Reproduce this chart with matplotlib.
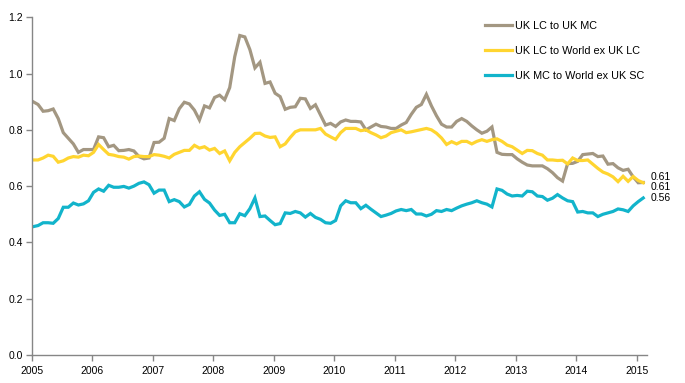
import numpy as np
import matplotlib.pyplot as plt
from matplotlib.ticker import FormatStrFormatter

plt.rcParams['font.family'] = ['Liberation Sans', 'DejaVu Sans']

# Monthly rolling correlations, Jan 2005 - Feb 2015
uk_lc_uk_mc = [
    0.90, 0.89, 0.866, 0.868, 0.874, 0.84, 0.79, 0.77, 0.75, 0.72,
    0.73, 0.73, 0.73, 0.775, 0.772, 0.74, 0.745, 0.726, 0.727, 0.73,
    0.725, 0.705, 0.697, 0.70, 0.755, 0.756, 0.77, 0.84, 0.833, 0.875,
    0.898, 0.892, 0.87, 0.835, 0.885, 0.878, 0.915, 0.923, 0.907, 0.95,
    1.06, 1.135, 1.13, 1.085, 1.02, 1.04, 0.965, 0.97, 0.93, 0.918,
    0.873, 0.88, 0.882, 0.912, 0.91, 0.876, 0.889, 0.853, 0.817, 0.823,
    0.812, 0.828, 0.835, 0.83, 0.83, 0.828, 0.80, 0.81, 0.82, 0.812,
    0.81, 0.805, 0.805, 0.817, 0.826, 0.855, 0.88, 0.89, 0.926, 0.885,
    0.85, 0.82, 0.81, 0.81, 0.83, 0.84, 0.83, 0.814, 0.80, 0.788,
    0.795, 0.81, 0.72, 0.713, 0.712, 0.712, 0.697, 0.685, 0.675, 0.672,
    0.672, 0.672, 0.662, 0.648, 0.63, 0.618, 0.68, 0.681, 0.688, 0.712,
    0.714, 0.716, 0.705, 0.707, 0.678, 0.68, 0.665, 0.656, 0.66, 0.633,
    0.612, 0.613,
]
uk_lc_world_lc = [
    0.693, 0.693, 0.70, 0.71, 0.706, 0.685, 0.69, 0.70, 0.705, 0.703,
    0.71, 0.708, 0.72, 0.748, 0.73, 0.713, 0.71, 0.705, 0.703, 0.696,
    0.705, 0.707, 0.705, 0.705, 0.712, 0.71, 0.706, 0.70, 0.713, 0.72,
    0.727, 0.727, 0.745, 0.735, 0.74, 0.728, 0.734, 0.716, 0.725, 0.69,
    0.72, 0.74, 0.755, 0.77, 0.787, 0.788, 0.778, 0.773, 0.775, 0.74,
    0.75, 0.773, 0.793, 0.80, 0.80, 0.80, 0.80, 0.805, 0.785, 0.775,
    0.766, 0.79, 0.805, 0.805, 0.805, 0.797, 0.80, 0.79, 0.782, 0.772,
    0.778, 0.79, 0.795, 0.80, 0.79, 0.793, 0.797, 0.801, 0.805, 0.80,
    0.788, 0.771, 0.748, 0.758, 0.75, 0.759, 0.759, 0.75, 0.759, 0.765,
    0.759, 0.765, 0.768, 0.759, 0.746, 0.74, 0.728, 0.716, 0.727, 0.726,
    0.716, 0.71, 0.693, 0.693, 0.691, 0.692, 0.679, 0.70, 0.691, 0.691,
    0.693, 0.678, 0.663, 0.65, 0.643, 0.633, 0.616, 0.635, 0.617, 0.634,
    0.62, 0.612,
]
uk_mc_world_sc = [
    0.456, 0.46, 0.47, 0.47, 0.468, 0.485, 0.525, 0.525, 0.54, 0.533,
    0.537, 0.548, 0.578, 0.59, 0.582, 0.603, 0.596, 0.596, 0.599, 0.593,
    0.60, 0.61, 0.615, 0.605, 0.575, 0.586, 0.586, 0.545, 0.552, 0.545,
    0.526, 0.535, 0.565, 0.58, 0.553, 0.54, 0.515, 0.496, 0.50, 0.47,
    0.47, 0.502, 0.495, 0.52, 0.558, 0.492, 0.494, 0.478, 0.463, 0.467,
    0.505, 0.503, 0.51, 0.505, 0.49, 0.503, 0.489, 0.482, 0.47, 0.468,
    0.478, 0.53, 0.548, 0.541, 0.541, 0.52, 0.532, 0.518, 0.505, 0.492,
    0.497, 0.503, 0.512, 0.517, 0.513, 0.517, 0.501, 0.501, 0.494, 0.50,
    0.513, 0.51, 0.517, 0.513, 0.522, 0.53, 0.536, 0.541, 0.548, 0.541,
    0.536, 0.526, 0.59, 0.585, 0.572, 0.565, 0.567, 0.565, 0.582, 0.58,
    0.565, 0.563, 0.55, 0.557, 0.57, 0.558, 0.548, 0.545, 0.508, 0.51,
    0.505, 0.505, 0.492, 0.50, 0.505, 0.51, 0.519, 0.516, 0.51, 0.53,
    0.545, 0.558,
]
labels = ['UK LC to UK MC', 'UK LC to World ex UK LC', 'UK MC to World ex UK SC']
colors = ['#A39782', '#FFD530', '#12B4CB']
end_labels = ['0.61', '0.61', '0.56']
label_offsets = [4, -3, 0]
years = list(range(2005, 2016))

x = 2005 + (np.arange(len(uk_lc_uk_mc)) + 0.3) / 12

fig = plt.figure(figsize=(6.85, 3.83), dpi=100)
ax = fig.add_axes([0.046, 0.073, 0.8985, 0.882])

series = [uk_lc_uk_mc, uk_lc_world_lc, uk_mc_world_sc]
for vals, lab, col in zip(series, labels, colors):
    ax.plot(x, vals, color=col, lw=2.3, label=lab, solid_joinstyle='miter')

# value labels at the end of each line
for vals, txt, dy in zip(series, end_labels, label_offsets):
    ax.annotate(txt, (x[-1], vals[-1]), xytext=(5, dy), textcoords='offset points',
                va='center', ha='left', fontsize=7.5, color='#000000')

ax.set_xlim(2005, 2015.17)
ax.set_ylim(0, 1.2)
ax.set_xticks(years)
ax.set_xticklabels([str(y) for y in years])
ax.set_yticks(np.arange(0, 1.21, 0.2))
ax.yaxis.set_major_formatter(FormatStrFormatter('%.1f'))

for s in ['top', 'right']:
    ax.spines[s].set_visible(False)
for s in ['left', 'bottom']:
    ax.spines[s].set_color('#868686')
    ax.spines[s].set_linewidth(1.0)
ax.tick_params(axis='both', colors='#868686', labelcolor='#000000', labelsize=7.5,
               length=4, width=1.0, direction='out')
ax.tick_params(axis='x', pad=4)
ax.tick_params(axis='y', pad=2)

leg = ax.legend(loc='upper left', bbox_to_anchor=(0.721, 1.018), frameon=False,
                fontsize=7.8, handlelength=2.5, handletextpad=0.3, labelspacing=1.4)

fig.savefig('out.png', dpi=100)
